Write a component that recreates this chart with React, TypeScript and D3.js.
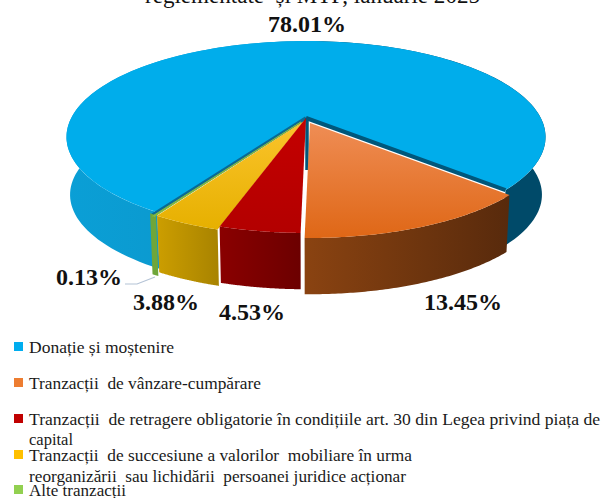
import React from "react";
import * as d3 from "d3";

const categories = [
  "Donație și moștenire",
  "Tranzacții de vânzare-cumpărare",
  "Tranzacții de retragere obligatorie",
  "Tranzacții de succesiune",
  "Alte tranzacții",
];
const values = [78.01, 13.45, 4.53, 3.88, 0.13];
const valueLabels = ["78.01%", "13.45%", "4.53%", "3.88%", "0.13%"];
const legendSwatches = ["#00adef", "#ed7d31", "#c00000", "#ffc000", "#92d050"];
const legendTexts = [
  "Donație și moștenire",
  "Tranzacții  de vânzare-cumpărare",
  "Tranzacții  de retragere obligatorie în condițiile art. 30 din Legea privind piața de",
  "capital",
  "Tranzacții  de succesiune a valorilor  mobiliare în urma",
  "reorganizării  sau lichidării  persoanei juridice acționar",
  "Alte tranzacții",
];
const titleText = "reglementate  și MTF, ianuarie 2025";

const W = 602, H = 498;
const cx = 306, cy = 118, R = 234.8, Ry = 92.2, k = 0.198;
const depth = 58, shrink = 0.985;
const rad = Math.PI / 180;

const rim = (a: number, off = [0, 0]): [number, number] => {
  const X = Math.sin(a), Y = -Math.cos(a), w = 1 - k * Y;
  return [cx + (R * X) / w + off[0], cy + (Ry * Y) / w + off[1]];
};
const rimLow = (a: number, off = [0, 0]): [number, number] => {
  const p = rim(a);
  return [cx + (p[0] - cx) * shrink + off[0], cy + depth + (p[1] - cy) * shrink + off[1]];
};
const samples = (a: number, b: number) => d3.range(0, 1.0001, 1 / 80).map((t) => a + (b - a) * t);
const line = d3.line();

const pie = d3.pie<number>().sort(null).startAngle(211.8 * rad).endAngle((211.8 + 360) * rad);
const arcs = pie(values);
const offsets = [[0, 0], [4, 5], [0, 0], [-2, 3], [-5, 4]];
const apexFor = (i: number): [number, number] => [cx + offsets[i][0], cy + offsets[i][1]];

const topPath = (i: number) => {
  const { startAngle: a, endAngle: b } = arcs[i];
  return line([apexFor(i), ...samples(a, b).map((t) => rim(t, offsets[i]))]) + "Z";
};
const sidePath = (a: number, b: number, off: number[]) =>
  line([...samples(a, b).map((t) => rim(t, off)), ...samples(b, a).map((t) => rimLow(t, off))]) + "Z";

const sideGradients = [
  ["#0a9fd6", "#0d93c6"],
  ["#8a4311", "#582a0c"],
  ["#8a0000", "#6c0000"],
  ["#cc9e00", "#a88300"],
  ["#6fa63a", "#6fa63a"],
];
const topGradients = [
  ["#00adeb", "#00adeb"],
  ["#ef8d55", "#df6716"],
  ["#c40000", "#b30000"],
  ["#fbc42c", "#e6b000"],
  ["#80b844", "#80b844"],
];

const legendLayout = [
  { swatch: 0, y: 353, len: 145 },
  { swatch: 1, y: 389, len: 232 },
  { swatch: 2, y: 425, len: 571 },
  { swatch: -1, y: 445, len: 44 },
  { swatch: 3, y: 461, len: 383 },
  { swatch: -1, y: 482, len: 377 },
  { swatch: 4, y: 496, len: 97 },
];
const pctLabels = [
  { x: 307, y: 32 },
  { x: 463, y: 310 },
  { x: 252, y: 320 },
  { x: 166, y: 310 },
  { x: 89, y: 285 },
];

export default function App() {
  const blue = arcs[0];
  const split = 2 * Math.PI;
  const r0 = rim(blue.startAngle, [-5, 3]);
  const r1 = rim(blue.endAngle);
  return (
    <svg width={W} height={H} style={{ position: "absolute", left: 0, top: 0, background: "#fff" }}
      fontFamily="'Liberation Serif', serif">
      <defs>
        {sideGradients.map((c, i) => (
          <linearGradient key={i} id={`side${i}`} x1="0" x2="1" y1="0" y2="0">
            <stop offset="0" stopColor={c[0]} />
            <stop offset="1" stopColor={c[1]} />
          </linearGradient>
        ))}
        {topGradients.map((c, i) => (
          <linearGradient key={i} id={`top${i}`} x1="0" x2="0" y1="0" y2="1">
            <stop offset="0" stopColor={c[0]} />
            <stop offset="1" stopColor={c[1]} />
          </linearGradient>
        ))}
      </defs>

      <text x={145} y={3} fontSize={23.5} fill="#111" textLength={335} lengthAdjust="spacingAndGlyphs" style={{ whiteSpace: "pre" }}>
        {titleText}
      </text>

      <path d={sidePath(blue.startAngle, split, [0, 0])} fill="url(#side0)" />
      <path d={sidePath(split, blue.endAngle, [0, 0])} fill="#004a69" />
      <path d={topPath(0)} fill="#00adeb" />
      <path d={line([[cx, cy], r1]) as string} stroke="#00577b" strokeWidth={4} fill="none" />
      <path d={line([[cx, cy], r0]) as string} stroke="#0a6a94" strokeWidth={3.5} fill="none" />
      <path d={line([[cx + 1, cy], [cx + 1, cy + 52]]) as string} stroke="#00577b" strokeWidth={3.5} fill="none" />

      {[4, 3, 2, 1].map((i) => (
        <g key={i}>
          <path d={sidePath(arcs[i].startAngle, arcs[i].endAngle, offsets[i])} fill={`url(#side${i})`}
            stroke={i === 4 ? "#6fa63a" : "none"} strokeWidth={i === 4 ? 4 : 0} />
          <path d={topPath(i)} fill={`url(#top${i})`} stroke={i === 4 ? "#80b844" : "none"} strokeWidth={i === 4 ? 1 : 0} />
        </g>
      ))}

      <path d={line([[125, 284], [137, 284], [155, 277]]) as string} fill="none" stroke="#b4c3d6" strokeWidth={1.2} />

      {values.map((_, i) => (
        <text key={i} x={pctLabels[i].x} y={pctLabels[i].y} textAnchor="middle" fontSize={24} fontWeight="bold" fill="#111">
          {valueLabels[i]}
        </text>
      ))}

      {legendLayout.map((l, i) => (
        <g key={i}>
          {l.swatch >= 0 && <rect x={14} y={l.y - 11} width={9} height={9} fill={legendSwatches[l.swatch]} />}
          <text x={29} y={l.y} fontSize={17.5} fill="#1a1a1a" textLength={l.len} lengthAdjust="spacingAndGlyphs" style={{ whiteSpace: "pre" }}>
            {legendTexts[i]}
          </text>
        </g>
      ))}
      <title>{categories.join(", ")}</title>
    </svg>
  );
}
